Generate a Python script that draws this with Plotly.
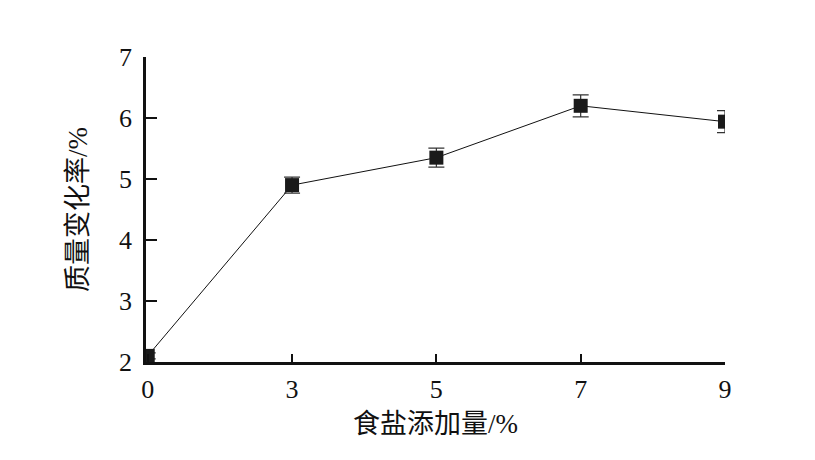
import plotly.graph_objects as go

categories = ["0", "3", "5", "7", "9"]
values = [2.10, 4.90, 5.35, 6.20, 5.94]
errors = [0.05, 0.13, 0.155, 0.18, 0.18]
y_ticks = [2, 3, 4, 5, 6, 7]

font_family = "Liberation Serif, Times New Roman, Noto Sans CJK SC, serif"

fig = go.Figure()
fig.add_trace(go.Scatter(
    x=list(range(len(categories))),
    y=values,
    mode="lines+markers",
    line=dict(color="#111111", width=1),
    marker=dict(symbol="square", size=14, color="#1a1a1a"),
    error_y=dict(type="data", array=errors, visible=True, color="#333333", thickness=1.2, width=8),
    showlegend=False,
))

fig.update_layout(
    width=815, height=460,
    margin=dict(l=138, r=98, t=49, b=106),
    paper_bgcolor="white", plot_bgcolor="white",
    font=dict(family=font_family, size=24, color="#111111"),
    xaxis=dict(
        range=[-0.012, 4], tickmode="array",
        tickvals=list(range(len(categories))), ticktext=categories,
        showline=True, linecolor="#111111", linewidth=2.5,
        ticks="inside", ticklen=8, tickwidth=1.5, tickcolor="#111111",
        showgrid=False, zeroline=False,
        title=dict(text="食盐添加量/%", font=dict(size=27), standoff=12),
        tickfont=dict(size=26),
        ticklabelstandoff=2,
    ),
    yaxis=dict(
        range=[2, 7], tickmode="array", tickvals=y_ticks,
        showline=True, linecolor="#111111", linewidth=2.5,
        ticks="inside", ticklen=11, tickwidth=1.5, tickcolor="#111111",
        showgrid=False, zeroline=False,
        title=dict(text="质量变化率/%", font=dict(size=27), standoff=24),
        tickfont=dict(size=26),
        ticklabelstandoff=6,
    ),
)

fig.write_html("out.html")
